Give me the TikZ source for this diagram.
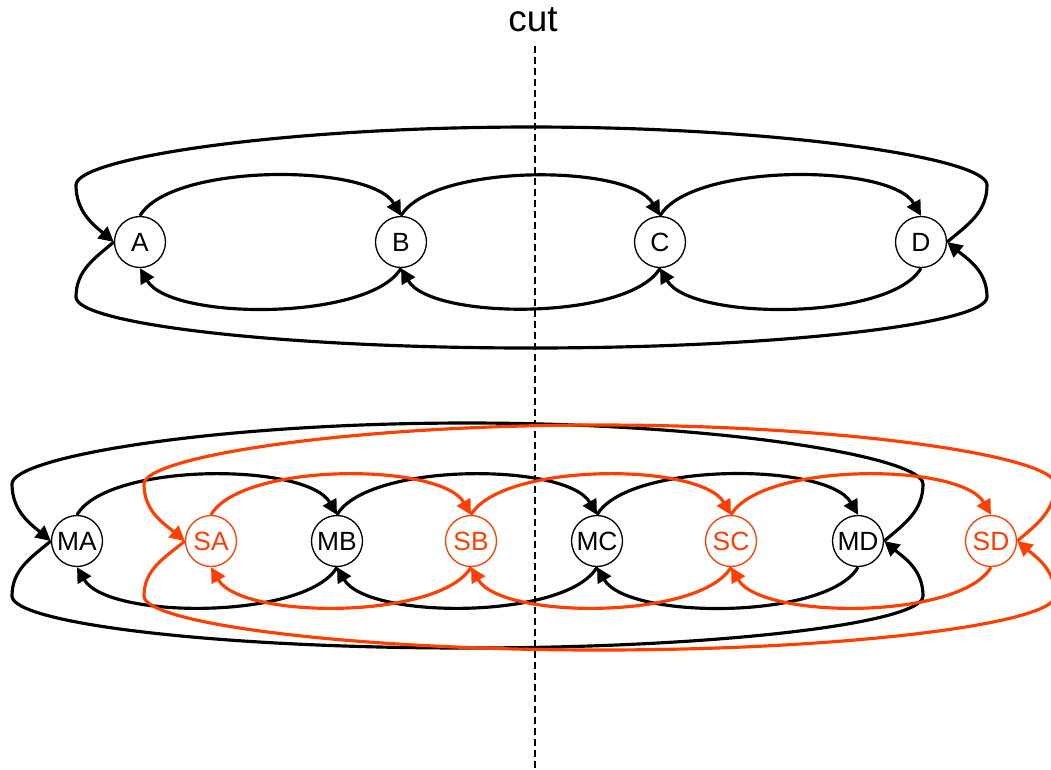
\documentclass[tikz,border=0pt]{standalone}
\usepackage{fontspec}
\setmainfont{Liberation Sans}
\usetikzlibrary{arrows.meta, positioning}
\definecolor{cut_red}{RGB}{255, 62, 0}

\begin{document}
\begin{tikzpicture}[x=0.02cm, y=0.02cm,
    ringnode/.style={circle, draw, line width=0.75pt, minimum size=1.02cm, inner sep=0pt, font=\fontsize{15}{17}\selectfont},
    link/.style={line width=1.8pt, -{Triangle[length=0.3cm, width=0.3cm]}},
    redlink/.style={link, cut_red},
    rednode/.style={ringnode, cut_red}]

      \useasboundingbox (0,0) rectangle (1051,-769);

      % 1. Linea del corte
      \node (cut) at (533,-20) {\fontsize{21}{24}\selectfont cut};
      \coordinate (cutend) at (535,-769);
      \draw[line width=1.5pt, dash pattern=on 0.14cm off 0.08cm] (cut.south) ++(2,-8) -- (cutend);

      % 2. Anillo de arriba
      \node[ringnode] (A) at (140,-242) {A};
      \node[ringnode] (B) at (401,-242) {B};
      \node[ringnode] (C) at (660,-242) {C};
      \node[ringnode] (D) at (921,-242) {D};

      % ida (arriba)
      \draw[link] (A.north) to[out=60, in=120, looseness=0.6] (B.north);
      \draw[link] (B.north) to[out=60, in=120, looseness=0.6] (C.north);
      \draw[link] (C.north) to[out=60, in=120, looseness=0.6] (D.north);
      \draw[link] (D.east) to[out=40, in=-90] (987,-185)
        .. controls (987,-158) and (780,-127) .. (531,-127)
        .. controls (282,-127) and (76,-158) .. (76,-185)
        to[out=-90, in=140] (A.west);

      % vuelta (abajo)
      \draw[link] (B.south) to[out=-120, in=-60, looseness=0.6] (A.south);
      \draw[link] (C.south) to[out=-120, in=-60, looseness=0.6] (B.south);
      \draw[link] (D.south) to[out=-120, in=-60, looseness=0.6] (C.south);
      \draw[link] (A.west) to[out=-140, in=90] (76,-297)
        .. controls (76,-324) and (282,-348) .. (531,-348)
        .. controls (780,-348) and (987,-324) .. (987,-297)
        to[out=90, in=-40] (D.east);

      % 3. Anillos de abajo (M en negro, S en rojo)
      \node[ringnode] (MA) at (77,-541) {MA};
      \node[rednode]  (SA) at (211,-541) {SA};
      \node[ringnode] (MB) at (337,-541) {MB};
      \node[rednode]  (SB) at (471,-541) {SB};
      \node[ringnode] (MC) at (597,-541) {MC};
      \node[rednode]  (SC) at (731,-541) {SC};
      \node[ringnode] (MD) at (858,-541) {MD};
      \node[rednode]  (SD) at (991,-541) {SD};

      % anillo M
      \draw[link] (MA.north) to[out=60, in=120, looseness=0.6] (MB.north);
      \draw[link] (MB.north) to[out=60, in=120, looseness=0.6] (MC.north);
      \draw[link] (MC.north) to[out=60, in=120, looseness=0.6] (MD.north);
      \draw[link] (MB.south) to[out=-120, in=-60, looseness=0.6] (MA.south);
      \draw[link] (MC.south) to[out=-120, in=-60, looseness=0.6] (MB.south);
      \draw[link] (MD.south) to[out=-120, in=-60, looseness=0.6] (MC.south);
      \draw[link] (MD.east) to[out=40, in=-90] (923,-484)
        .. controls (923,-457) and (720,-423) .. (467,-423)
        .. controls (214,-423) and (12,-457) .. (12,-484)
        to[out=-90, in=140] (MA.west);
      \draw[link] (MA.west) to[out=-140, in=90] (12,-596)
        .. controls (12,-623) and (214,-648) .. (467,-648)
        .. controls (720,-648) and (923,-623) .. (923,-596)
        to[out=90, in=-40] (MD.east);

      % anillo S
      \draw[redlink] (SA.north) to[out=60, in=120, looseness=0.6] (SB.north);
      \draw[redlink] (SB.north) to[out=60, in=120, looseness=0.6] (SC.north);
      \draw[redlink] (SC.north) to[out=60, in=120, looseness=0.6] (SD.north);
      \draw[redlink] (SB.south) to[out=-120, in=-60, looseness=0.6] (SA.south);
      \draw[redlink] (SC.south) to[out=-120, in=-60, looseness=0.6] (SB.south);
      \draw[redlink] (SD.south) to[out=-120, in=-60, looseness=0.6] (SC.south);
      \draw[redlink] (SD.east) to[out=40, in=-90] (1055,-484)
        .. controls (1055,-457) and (852,-425) .. (599,-425)
        .. controls (346,-425) and (144,-457) .. (144,-484)
        to[out=-90, in=140] (SA.west);
      \draw[redlink] (SA.west) to[out=-140, in=90] (144,-596)
        .. controls (144,-623) and (346,-650) .. (599,-650)
        .. controls (852,-650) and (1055,-623) .. (1055,-596)
        to[out=90, in=-40] (SD.east);

\end{tikzpicture}
\end{document}
